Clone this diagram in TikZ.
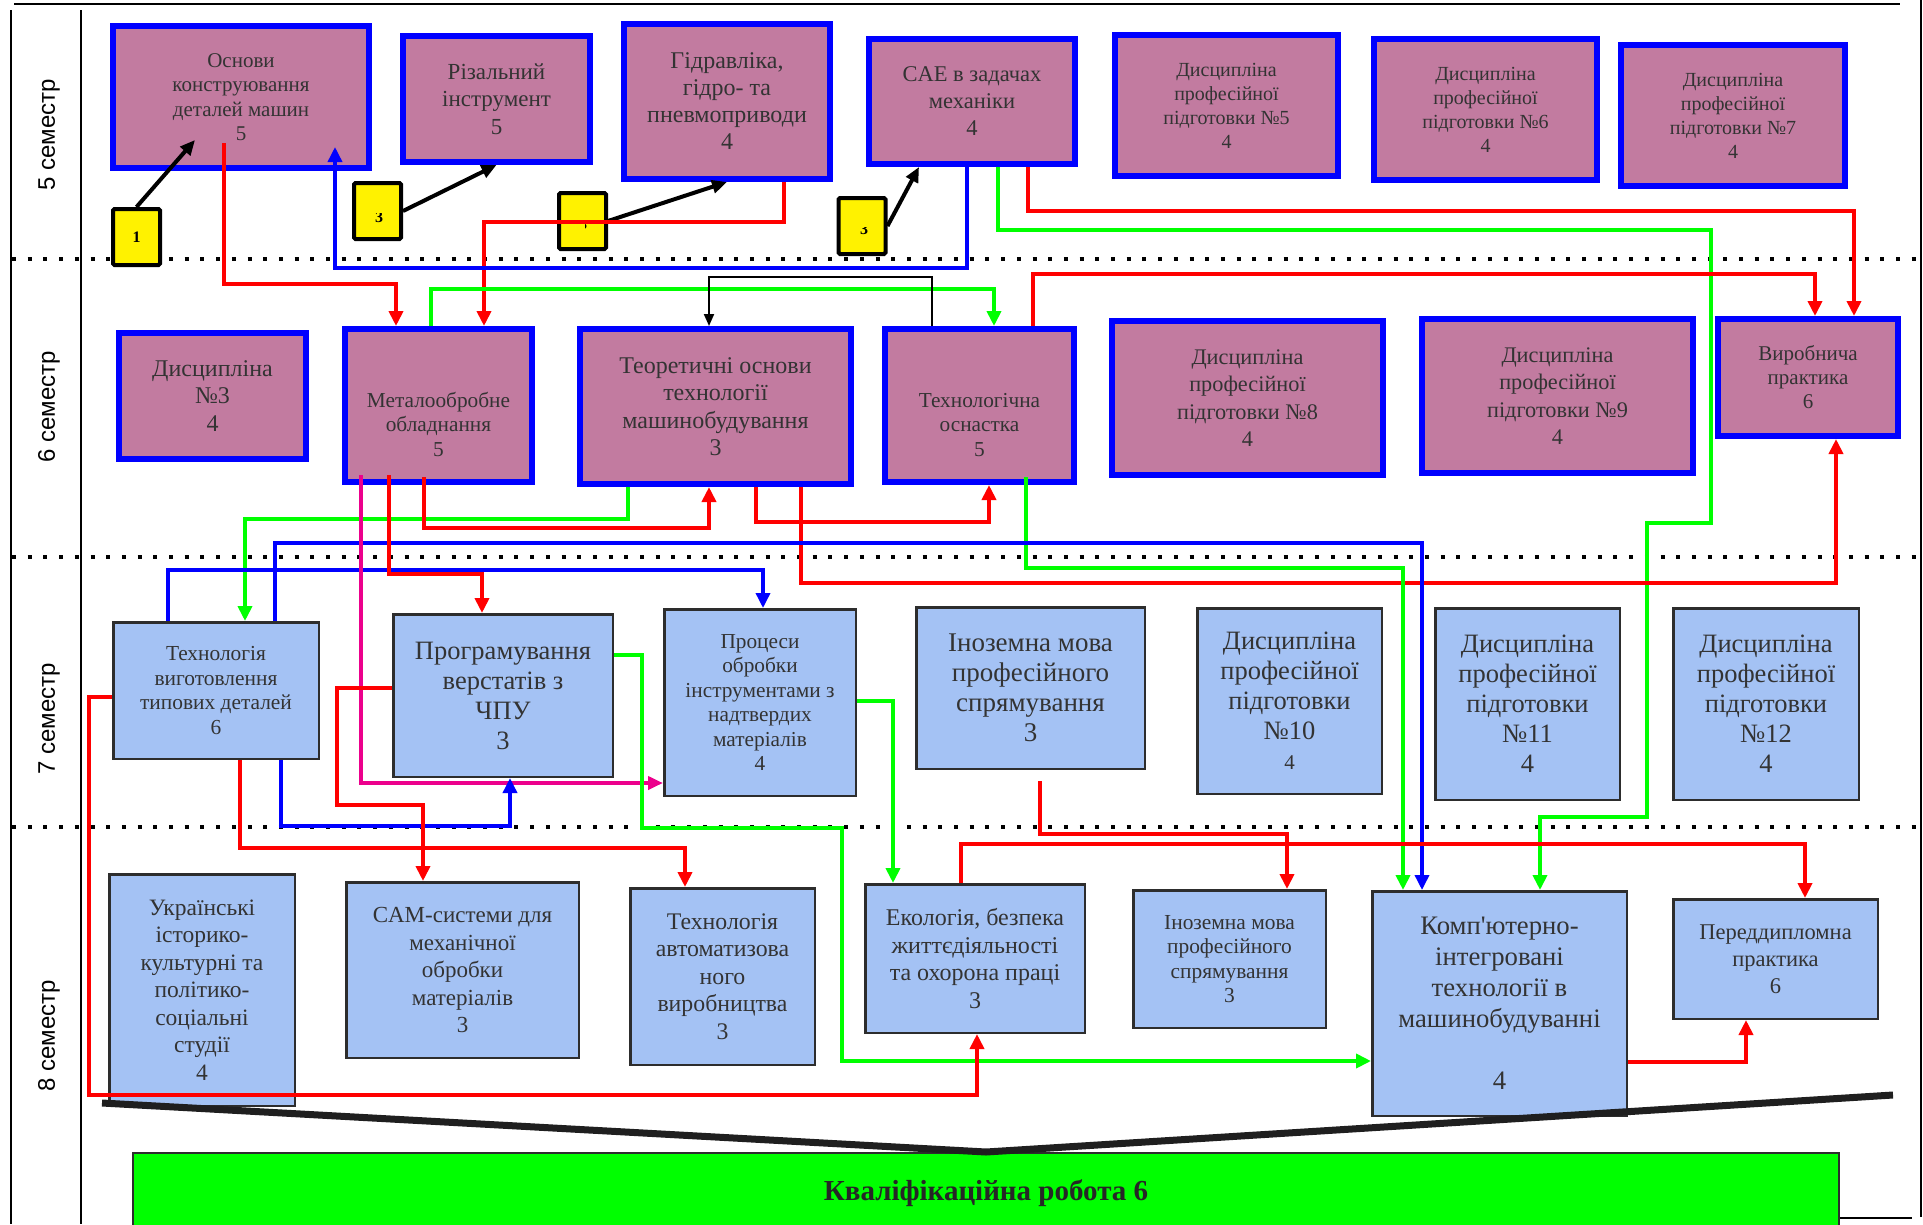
\documentclass[tikz,border=0pt]{standalone}
\usepackage{fontspec}
\setmainfont{Liberation Serif}
\newfontfamily\semfont{Liberation Sans}
\usetikzlibrary{positioning,arrows.meta}

\definecolor{mauve}{RGB}{194,123,160}
\definecolor{paleblue}{RGB}{164,194,244}
\definecolor{boxgray}{RGB}{45,45,45}
\newcommand{\fsz}[2]{\fontsize{#1}{#2}\selectfont}
\newcommand{\apos}{\XeTeXglyph\XeTeXcharglyph"0027\relax}

\begin{document}
\begin{tikzpicture}[x=1pt, y=-1pt,
    pinkbox/.style={draw=blue, fill=mauve, line width=6pt, align=center, inner sep=0pt, text=black!80},
    bluebox/.style={draw=boxgray, fill=paleblue, line width=2.5pt, align=center, inner sep=0pt, text=black!80},
    ybox/.style={draw=black, fill=yellow, line width=4pt, rounded corners=1.5pt, minimum width=47pt, minimum height=56pt, inner sep=0pt},
    ynum/.style={font=\bfseries\fsz{16}{16}, inner sep=0pt},
    kvalbox/.style={draw=boxgray, fill=green, line width=1.5pt, font=\bfseries\fsz{29}{29}, text=black!85},
    semlabel/.style={rotate=90, font=\semfont\fsz{24}{24}},
    sepline/.style={line width=4pt, dash pattern=on 4pt off 11.7pt},
    redarr/.style={red, line width=4pt, -{Triangle[length=15pt,width=14pt]}},
    grnarr/.style={green, line width=4pt, -{Triangle[length=15pt,width=14pt]}},
    bluarr/.style={blue, line width=3.5pt, -{Triangle[length=15pt,width=14pt]}},
    magarr/.style={magenta, line width=4pt, -{Triangle[length=15pt,width=13pt]}},
    blkarr/.style={black, line width=4pt, -{Triangle[length=15pt,width=13pt]}},
    thinarr/.style={black, line width=2pt, -{Triangle[length=12pt,width=10pt]}}
]
    \useasboundingbox (0,0) rectangle (1923,1224);

    % Frame and semester rows
    \draw[line width=2.5pt] (14,4) -- (1900,4);
    \draw[line width=2pt] (11,10) -- (11,1224);
    \draw[line width=2pt] (81,10) -- (81,1224);
    \draw[line width=2pt] (1921,0) -- (1921,1217);
    \draw[line width=2pt] (1839,1218) -- (1912,1218);
    \draw[sepline] (12,259) -- (1920,259);
    \draw[sepline] (12,557) -- (1920,557);
    \draw[sepline] (12,827) -- (1920,827);

    \node[semlabel] (s5) at (49,135) {5 семестр};
    \node[semlabel] (s6) at (49,407) {6 семестр};
    \node[semlabel] (s7) at (49,719) {7 семестр};
    \node[semlabel] (s8) at (49,1036) {8 семестр};

    % 5 semester
    \node[pinkbox, minimum width=256pt, minimum height=142pt, font=\fsz{21}{24.5}] (osn) at (241,97) {Основи\\конструювання\\деталей машин\\5};
    \node[pinkbox, minimum width=187pt, minimum height=126pt, font=\fsz{23}{27.5}] (riz) at (496.5,99) {Різальний\\інструмент\\5};
    \node[pinkbox, minimum width=206pt, minimum height=155pt, font=\fsz{24}{27}] (gidr) at (727,101.5) {Гідравліка,\\гідро- та\\пневмоприводи\\4};
    \node[pinkbox, minimum width=206pt, minimum height=125pt, font=\fsz{22.5}{27}] (cae) at (972,101.5) {CAE в задачах\\механіки\\4};
    \node[pinkbox, minimum width=223pt, minimum height=141pt, font=\fsz{20}{24}] (d5) at (1226.5,105.5) {Дисципліна\\професійної\\підготовки №5\\4};
    \node[pinkbox, minimum width=223pt, minimum height=141pt, font=\fsz{20}{24}] (d6) at (1485.5,109.5) {Дисципліна\\професійної\\підготовки №6\\4};
    \node[pinkbox, minimum width=224pt, minimum height=141pt, font=\fsz{20}{24}] (d7) at (1733,115.5) {Дисципліна\\професійної\\підготовки №7\\4};

    % 6 semester
    \node[pinkbox, minimum width=187pt, minimum height=126pt, font=\fsz{24}{27.5}] (d3) at (212.5,396) {Дисципліна\\№3\\4};
    \node[pinkbox, minimum width=187pt, minimum height=153pt, font=\fsz{21.3}{24.5}] (metal) at (438.5,405.5) {\mbox{}\\[28pt]Металообробне\\обладнання\\5};
    \node[pinkbox, minimum width=271pt, minimum height=155pt, font=\fsz{24}{27.5}] (teor) at (715.5,406.5) {Теоретичні основи\\технології\\машинобудування\\3};
    \node[pinkbox, minimum width=189pt, minimum height=153pt, font=\fsz{21.3}{24.5}] (osnast) at (979.5,405.5) {\mbox{}\\[28pt]Технологічна\\оснастка\\5};
    \node[pinkbox, minimum width=271pt, minimum height=154pt, font=\fsz{22.3}{27.5}] (d8) at (1247.5,398) {Дисципліна\\професійної\\підготовки №8\\4};
    \node[pinkbox, minimum width=271pt, minimum height=154pt, font=\fsz{22.3}{27.5}] (d9) at (1557.5,396) {Дисципліна\\професійної\\підготовки №9\\4};
    \node[pinkbox, minimum width=180pt, minimum height=117pt, font=\fsz{21}{24}] (vyr) at (1808,377.5) {Виробнича\\практика\\6};

    % 7 semester
    \node[bluebox, minimum width=205.5pt, minimum height=136.5pt, font=\fsz{21.4}{24.5}] (tvtd) at (216,690.5) {Технологія\\виготовлення\\типових деталей\\6};
    \node[bluebox, minimum width=219.5pt, minimum height=162.5pt, font=\fsz{26.5}{30}] (prog) at (503,695.5) {Програмування\\верстатів з\\ЧПУ\\3};
    \node[bluebox, minimum width=191.5pt, minimum height=186.5pt, font=\fsz{21.3}{24.5}] (proc) at (760,702.5) {Процеси\\обробки\\інструментами з\\надтвердих\\матеріалів\\4};
    \node[bluebox, minimum width=228.5pt, minimum height=161.5pt, font=\fsz{27}{30}] (inoz7) at (1030.5,688) {Іноземна мова\\професійного\\спрямування\\3};
    \node[bluebox, minimum width=184.5pt, minimum height=185.5pt, font=\fsz{26.5}{30}] (d10) at (1289.5,701) {Дисципліна\\професійної\\підготовки\\№10\\{\fsz{21}{21}4}};
    \node[bluebox, minimum width=184.5pt, minimum height=191.5pt, font=\fsz{26.5}{30}] (d11) at (1527.5,704) {Дисципліна\\професійної\\підготовки\\№11\\4};
    \node[bluebox, minimum width=185.5pt, minimum height=191.5pt, font=\fsz{26.5}{30}] (d12) at (1766,704) {Дисципліна\\професійної\\підготовки\\№12\\4};

    % 8 semester
    \node[bluebox, minimum width=185.5pt, minimum height=231.5pt, font=\fsz{23.5}{27.5}] (ukr) at (202,990) {Українські\\історико-\\культурні та\\політико-\\соціальні\\студії\\4};
    \node[bluebox, minimum width=232.5pt, minimum height=175.5pt, font=\fsz{23}{27.5}] (cam) at (462.5,970) {CAM-системи для\\механічної\\обробки\\матеріалів\\3};
    \node[bluebox, minimum width=184.5pt, minimum height=176.5pt, font=\fsz{23.8}{27.5}] (tav) at (722.5,976.5) {Технологія\\автоматизова\\ного\\виробництва\\3};
    \node[bluebox, minimum width=219.5pt, minimum height=148.5pt, font=\fsz{24}{27.5}] (eko) at (975,958.5) {Екологія, безпека\\життєдіяльності\\та охорона праці\\3};
    \node[bluebox, minimum width=192.5pt, minimum height=137.5pt, font=\fsz{21.4}{24.5}] (inoz8) at (1229.5,959) {Іноземна мова\\професійного\\спрямування\\3};
    \node[bluebox, minimum width=254.5pt, minimum height=224.5pt, font=\fsz{26.7}{31}] (kit) at (1499.5,1003.5) {Комп\apos ютерно-\\інтегровані\\технології в\\машинобудуванні\\[31pt]4};
    \node[bluebox, minimum width=204.5pt, minimum height=119.5pt, font=\fsz{22.5}{27}] (pered) at (1775.5,959) {Переддипломна\\практика\\6};

    % Final work
    \node[kvalbox, minimum width=1706pt, minimum height=80pt, anchor=north] (kval) at (986,1152) {Кваліфікаційна робота 6};

    % Yellow markers
    \node[ybox, ynum] (y1) at (136.5,237) {1};
    \node[ybox] (y2) at (377.5,211) {};
    \node[ybox] (y3) at (582.5,221) {};
    \node[ybox] (y4) at (862,226) {};
    \begin{scope}
        \clip (354,213) rectangle (401,239);
        \node[ynum] (t2) at (379,217) {3};
    \end{scope}
    \begin{scope}
        \clip (585,221) rectangle (606,249);
        \node[ynum] (t3) at (583,224) {3};
    \end{scope}
    \begin{scope}
        \clip (839,227) rectangle (885,254);
        \node[ynum] (t4) at (864,229) {3};
    \end{scope}

    \draw[blkarr] (y1.north) -- ([yshift=31pt]osn.south -| 195,0);
    \draw[blkarr] (y2.east) -- (riz.south);
    \draw[blkarr] (y3.east) -- (gidr.south);
    \draw[blkarr] (y4.east) -- (cae.south -| 919,0);

    % Links 5 -> 6
    \draw[redarr] ([yshift=28pt]osn.south -| 224,0) -- (224,284) -| (metal.north -| 396,0);
    \draw[redarr] (gidr.south -| 784,0) |- (484,222) -- (metal.north -| 484,0);
    \draw[bluarr] (cae.south -| 967,0) |- (335,268) -- ([yshift=24pt]osn.south -| 335,0);
    \draw[grnarr] (cae.south -| 998,0) |- (1711,230) |- (1647,523) |- (1540,817) -- (kit.north -| 1540,0);
    \draw[redarr] (cae.south -| 1028,0) |- (1854,211) -- (vyr.north -| 1854,0);
    \draw[redarr] (osnast.north -| 1033,0) |- (1815,274) -- (vyr.north -| 1815,0);
    \draw[grnarr] (metal.north -| 431,0) |- (994,289) -- (osnast.north -| 994,0);
    \draw[thinarr] (osnast.north -| 932,0) |- (709,277) -- (teor.north -| 709,0);

    % Links 6 -> 7
    \draw[grnarr] (teor.south -| 628,0) |- (245,519) -- (tvtd.north -| 245,0);
    \draw[redarr] ([yshift=8pt]metal.south -| 424,0) |- (709,528) -- (teor.south -| 709,0);
    \draw[redarr] (teor.south -| 756,0) |- (989,522) -- (osnast.south -| 989,0);
    \draw[redarr] (teor.south -| 801,0) |- (1836,583) -- (vyr.south -| 1836,0);
    \draw[grnarr] ([yshift=8pt]osnast.south -| 1026,0) |- (1403,568) -- (kit.north -| 1403,0);
    \draw[bluarr] (tvtd.north -| 275,0) |- (1422,543) -- (kit.north -| 1422,0);
    \draw[bluarr] (tvtd.north -| 168,0) |- (763,570) -- (proc.north -| 763,0);
    \draw[magarr] ([yshift=10pt]metal.south -| 361,0) |- (proc.west |- 0,783);
    \draw[redarr] ([yshift=10pt]metal.south -| 389,0) |- (482,574) -- (prog.north -| 482,0);

    % Links 7 -> 8
    \draw[grnarr] (prog.east |- 0,655) -| (642,828) -| (842,1061) -- (kit.west |- 0,1061);
    \draw[grnarr] (proc.east |- 0,701) -| (eko.north -| 893,0);
    \draw[redarr] (tvtd.west |- 0,697) -| (89,1095) -| (eko.south -| 977,0);
    \draw[redarr] (tvtd.south -| 240,0) |- (685,848) -- (tav.north -| 685,0);
    \draw[bluarr] (tvtd.south -| 281,0) |- (510,826) -- (prog.south -| 510,0);
    \draw[redarr] (prog.west |- 0,688) -| (337,805) -| (cam.north -| 423,0);
    \draw[redarr] ([yshift=-11pt]inoz7.south -| 1040,0) |- (1287,834) -- (inoz8.north -| 1287,0);
    \draw[redarr] (eko.north -| 961,0) |- (1805,844) -- (pered.north -| 1805,0);
    \draw[redarr] (kit.east |- 0,1062) -| (pered.south -| 1746,0);

    % Wedge to final work
    \coordinate (wl) at (102,1103);
    \coordinate (wr) at (1893,1095);
    \draw[line width=7pt, black!88] (wl) -- (kval.north) -- (wr);
\end{tikzpicture}
\end{document}
